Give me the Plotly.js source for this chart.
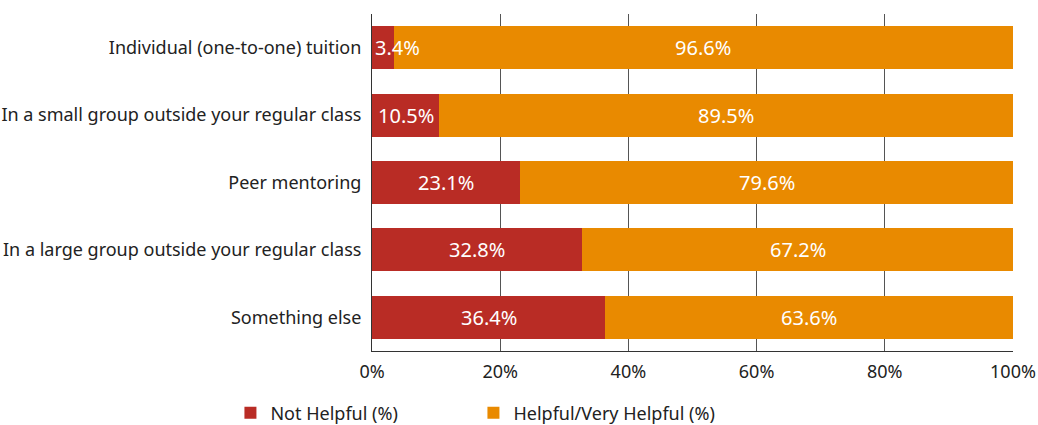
<!DOCTYPE html>
<html>
<head>
<meta charset="utf-8">
<script src="https://cdn.plot.ly/plotly-3.0.1.min.js"></script>
<style>html,body{margin:0;padding:0;background:#fff;}#chart{width:1038px;height:425px;}</style>
</head>
<body>
<div id="chart"></div>
<script>
const categories = [
  "Individual (one-to-one) tuition",
  "In a small group outside your regular class",
  "Peer mentoring",
  "In a large group outside your regular class",
  "Something else"
];
const notHelpful = [3.4, 10.5, 23.1, 32.8, 36.4];
const helpful = [96.6, 89.5, 79.6, 67.2, 63.6];
const seriesNames = ["Not Helpful (%)", "Helpful/Very Helpful (%)"];
const xTickVals = [0, 20, 40, 60, 80, 100];
const xTickText = ["0%", "20%", "40%", "60%", "80%", "100%"];

const RED = "#B92C25", ORANGE = "#E98A00";
const FONT = "Noto Sans, Open Sans, sans-serif";

const traces = [
  {type: "bar", orientation: "h", name: seriesNames[0], y: categories, x: notHelpful,
   marker: {color: RED}, width: 0.64, hoverinfo: "none"},
  {type: "bar", orientation: "h", name: seriesNames[1], y: categories, x: helpful,
   marker: {color: ORANGE}, width: 0.64, hoverinfo: "none"}
];

const annotations = [];
categories.forEach((c, i) => {
  const r = notHelpful[i];
  const narrow = r < 6;
  annotations.push({x: narrow ? 0 : r / 2, y: c, xref: "x", yref: "y",
    text: r.toFixed(1) + "%", showarrow: false, xanchor: narrow ? "left" : "center",
    xshift: narrow ? 1 : 0,
    font: {family: FONT, size: 20, color: "#ffffff"}});
  const end = Math.min(r + helpful[i], 100);
  annotations.push({x: (r + end) / 2, y: c, xref: "x", yref: "y",
    text: helpful[i].toFixed(1) + "%", showarrow: false, xanchor: "center",
    font: {family: FONT, size: 20, color: "#ffffff"}});
});

const layout = {
  width: 1038, height: 425,
  margin: {l: 372, r: 25, t: 14, b: 74},
  barmode: "stack",
  bargap: 0.36,
  paper_bgcolor: "#ffffff", plot_bgcolor: "#ffffff",
  font: {family: FONT, size: 18, color: "#222222"},
  showlegend: true,
  legend: {orientation: "h", xref: "container", yref: "container", x: 0.222, y: 0.028, yanchor: "middle", xanchor: "left",
    entrywidth: 198, entrywidthmode: "pixels", font: {family: FONT, size: 18, color: "#222222"},
    traceorder: "normal"},
  xaxis: {range: [0, 100], tickvals: xTickVals, ticktext: xTickText, showgrid: true,
    gridcolor: "#555555", gridwidth: 1, showline: true, linecolor: "#333333", linewidth: 1,
    zeroline: false, ticks: "", ticklabelstandoff: 4, fixedrange: true, tickfont: {size: 18, color: "#222222"}},
  yaxis: {autorange: "reversed", showgrid: false, showline: true, linecolor: "#333333", linewidth: 1,
    ticks: "", ticklabelstandoff: 6, tickfont: {size: 18, color: "#222222"}},
  annotations: annotations
};

Plotly.newPlot("chart", traces, layout, {displayModeBar: false, staticPlot: true});
</script>
</body>
</html>
